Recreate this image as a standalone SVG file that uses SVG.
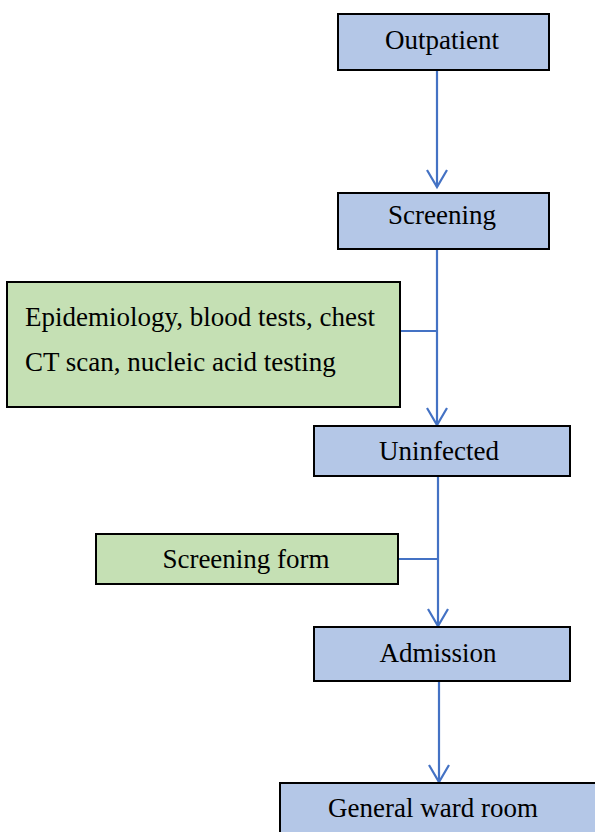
<svg xmlns="http://www.w3.org/2000/svg" width="595" height="832" viewBox="0 0 595 832">
<style>
.blue{fill:#B4C7E7;stroke:#000;stroke-width:2}
.green{fill:#C5E0B4;stroke:#000;stroke-width:2}
.t{font-family:"Liberation Serif","Times New Roman",serif;font-size:27px;fill:#000}
.c{text-anchor:middle}
.ln{stroke:#4472C4;stroke-width:2.2;fill:none}
</style>
<defs>
<marker id="ah" markerUnits="userSpaceOnUse" markerWidth="24" markerHeight="24" viewBox="-12 -20 24 24" refX="0" refY="0" orient="auto-start-reverse" overflow="visible">
<path d="M-10,-17 L0,0 L10,-17" fill="none" stroke="#4472C4" stroke-width="2.2" transform="rotate(-90)"/>
</marker>
</defs>
<rect width="595" height="832" fill="#fff"/>
<g id="connectors">
<line class="ln" x1="437" y1="70" x2="437" y2="187" marker-end="url(#ah)"/>
<line class="ln" x1="437" y1="249" x2="437" y2="425" marker-end="url(#ah)"/>
<line class="ln" x1="400" y1="331" x2="437" y2="331"/>
<line class="ln" x1="438" y1="476" x2="438" y2="626" marker-end="url(#ah)"/>
<line class="ln" x1="398" y1="559" x2="438" y2="559"/>
<line class="ln" x1="439" y1="681" x2="439" y2="782" marker-end="url(#ah)"/>
</g>
<g id="outpatient">
<rect class="blue" x="338" y="14" width="211" height="56"/>
<text class="t c" x="442" y="49">Outpatient</text>
</g>
<g id="screening">
<rect class="blue" x="338" y="193" width="211" height="56"/>
<text class="t c" x="442" y="224">Screening</text>
</g>
<g id="tests">
<rect class="green" x="7" y="282" width="393" height="125"/>
<text class="t" x="25" y="326">Epidemiology, blood tests, chest</text>
<text class="t" x="25" y="371">CT scan, nucleic acid testing</text>
</g>
<g id="uninfected">
<rect class="blue" x="314" y="426" width="256" height="50"/>
<text class="t c" x="439" y="460">Uninfected</text>
</g>
<g id="screening-form">
<rect class="green" x="96" y="534" width="302" height="50"/>
<text class="t c" x="246" y="568">Screening form</text>
</g>
<g id="admission">
<rect class="blue" x="314" y="627" width="256" height="54"/>
<text class="t c" x="438" y="662">Admission</text>
</g>
<g id="general-ward">
<rect class="blue" x="280" y="783" width="330" height="60"/>
<text class="t c" x="433" y="817">General ward room</text>
</g>
</svg>
